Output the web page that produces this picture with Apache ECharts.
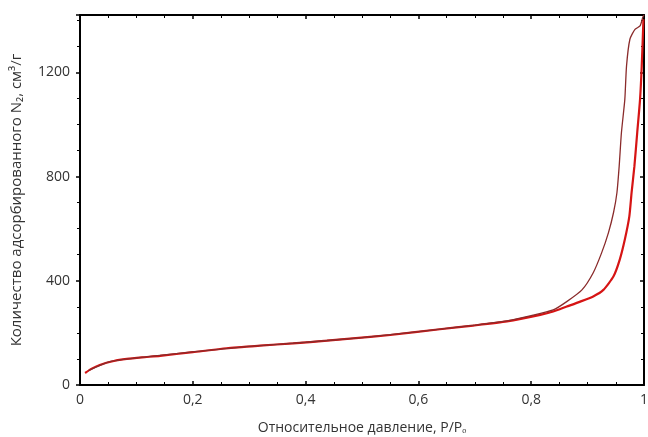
<!doctype html>
<html>
    <head>
        <meta charset="utf-8">
        <title>Isotherm - ECHARTS</title>
        <style>
            html, body { margin: 0; padding: 0; background: #fff; }
            #main { width: 648px; height: 437px; }
        </style>
    </head>
    <body>
        <div id="main"></div>
        <script src="https://cdn.jsdelivr.net/npm/echarts@6/dist/echarts.min.js"></script>
        <script>
            // adsorption branch
            var adsP = [0.009, 0.02, 0.035, 0.06, 0.083, 0.11, 0.142, 0.2, 0.26, 0.319, 0.378, 0.438, 0.489,
                0.55, 0.638, 0.697, 0.757, 0.816, 0.839, 0.863, 0.887, 0.91, 0.928, 0.946, 0.957, 0.966,
                0.974, 0.978, 0.983, 0.988, 0.993, 0.996, 0.999];
            var adsV = [46, 62, 77, 92, 100, 106, 112, 126, 141, 151, 160, 170, 180,
                192, 214, 228, 244, 269, 282, 301, 320, 340, 365, 417, 481, 558,
                647, 738, 840, 969, 1096, 1224, 1404];

            // desorption branch
            var desP = [1.0, 0.998, 0.993, 0.984, 0.975, 0.969, 0.966, 0.96, 0.956, 0.952, 0.946, 0.937,
                0.925, 0.91, 0.89, 0.863, 0.839, 0.8, 0.757, 0.7, 0.6, 0.5, 0.4, 0.3, 0.2, 0.1, 0.05, 0.015];
            var desV = [1420, 1412, 1378, 1365, 1327, 1224, 1096, 969, 840, 738, 662, 585,
                508, 431, 365, 320, 288, 266, 246, 230, 205, 182, 164, 148, 127, 104, 88, 55];

            var yTicks = [0, 400, 800, 1200];

            function zip(xs, ys) {
                return xs.map(function (x, i) { return [x, ys[i]]; });
            }

            var chart = echarts.init(document.getElementById('main'));
            var font = 'Open Sans';
            var axisLine = { show: true, onZero: false, lineStyle: { color: '#000', width: 2 } };
            var tickStyle = { color: '#000', width: 1.5 };

            chart.setOption({
                animation: false,
                grid: { left: 80, right: 4, top: 15, bottom: 52, outerBoundsMode: 'none', containLabel: false },
                xAxis: [{
                    type: 'value',
                    min: 0, max: 1, interval: 0.2,
                    axisLine: axisLine,
                    axisTick: { inside: true, length: 4, lineStyle: tickStyle },
                    minorTick: { show: true, splitNumber: 4, length: 3, lineStyle: { color: '#000' } },
                    splitLine: { show: false },
                    axisLabel: {
                        color: '#333', fontFamily: font, fontSize: 14, margin: 8,
                        formatter: function (v) { return String(v).replace('.', ','); }
                    },
                    name: 'Относительное давление, P/Pₒ',
                    nameLocation: 'middle',
                    nameGap: 36,
                    nameTextStyle: { color: '#333', fontFamily: font, fontSize: 14 }
                }, {
                    type: 'value',
                    position: 'top',
                    min: 0, max: 1, interval: 0.2,
                    axisLine: axisLine,
                    axisTick: { inside: true, length: 4, lineStyle: tickStyle },
                    minorTick: { show: true, splitNumber: 4, length: 3, lineStyle: { color: '#000' } },
                    splitLine: { show: false },
                    axisLabel: { show: false }
                }],
                yAxis: [{
                    type: 'value',
                    min: 0, max: 1420, interval: 400,
                    axisLine: axisLine,
                    axisTick: { length: 4, lineStyle: tickStyle },
                    minorTick: { show: true, splitNumber: 4, length: 3, lineStyle: { color: '#000' } },
                    splitLine: { show: false },
                    axisLabel: {
                        color: '#333', fontFamily: font, fontSize: 14, margin: 10,
                        showMaxLabel: false,
                        formatter: function (v) { return yTicks.indexOf(v) >= 0 ? String(v) : ''; }
                    },
                    name: 'Количество адсорбированного N₂, см³/г',
                    nameLocation: 'middle',
                    nameGap: 56,
                    nameTextStyle: { color: '#333', fontFamily: font, fontSize: 15 }
                }, {
                    type: 'value',
                    position: 'right',
                    min: 0, max: 1420, interval: 400,
                    axisLine: axisLine,
                    axisTick: { inside: true, length: 4, lineStyle: tickStyle },
                    minorTick: { show: true, splitNumber: 4, length: 3, lineStyle: { color: '#000' } },
                    splitLine: { show: false },
                    axisLabel: { show: false }
                }],
                series: [{
                    name: 'adsorption',
                    type: 'line',
                    data: zip(adsP, adsV),
                    smooth: 0.2,
                    symbol: 'none',
                    lineStyle: { color: '#d61414', width: 2.2 }
                }, {
                    name: 'desorption',
                    type: 'line',
                    data: zip(desP, desV),
                    smooth: 0.2,
                    symbol: 'none',
                    lineStyle: { color: '#8a2b2b', width: 1.3 }
                }]
            });

            window.addEventListener('resize', function () {
                chart.resize();
            });
        </script>
    </body>
</html>
